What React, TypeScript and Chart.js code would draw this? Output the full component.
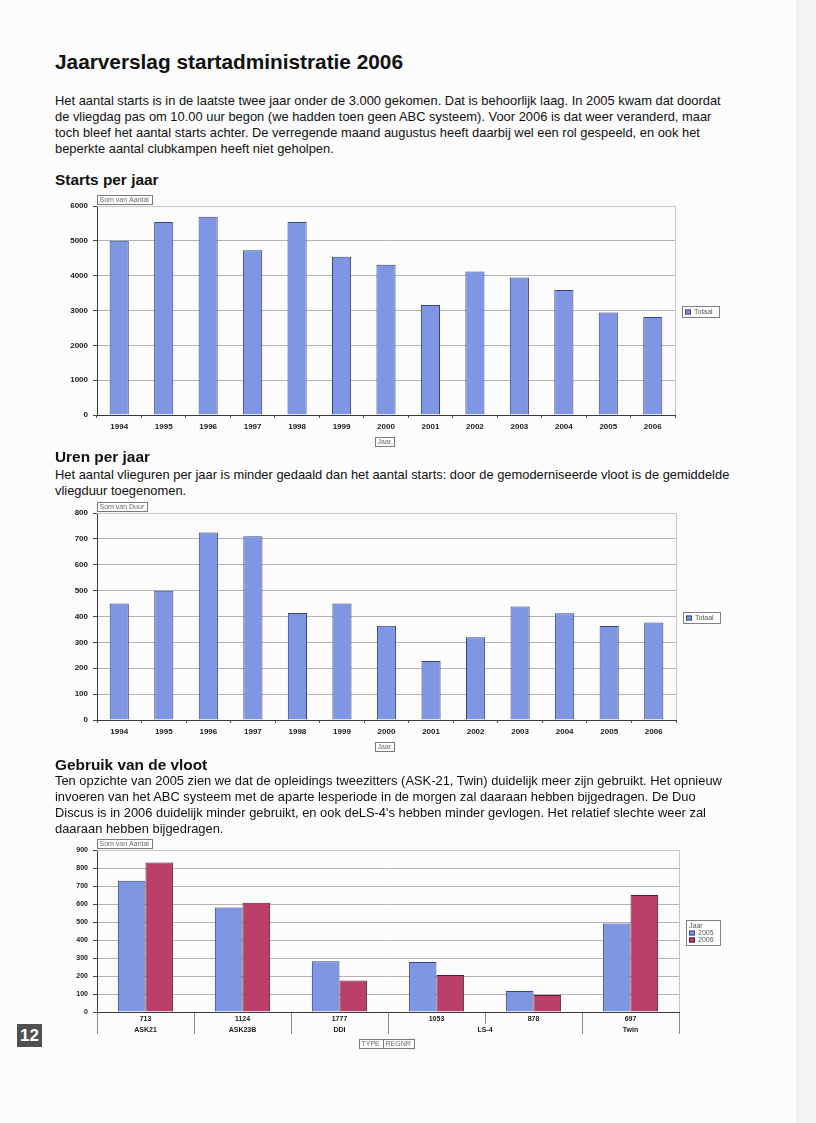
import React, { useEffect, useRef } from 'react';
import { Chart, registerables } from 'chart.js';

Chart.register(...registerables);

// ---------- data ----------
const years = ['1994', '1995', '1996', '1997', '1998', '1999', '2000', '2001', '2002', '2003', '2004', '2005', '2006'];
const startsTotaal = [5000, 5540, 5690, 4730, 5540, 4540, 4310, 3160, 4120, 3950, 3590, 2940, 2810];
const urenTotaal = [450, 500, 725, 710, 414, 450, 364, 228, 320, 439, 413, 363, 377];
const fleetCodes = ['713', '1124', '1777', '1053', '878', '697'];
const fleetTypes = ['ASK21', 'ASK23B', 'DDI', 'LS-4', 'LS-4', 'Twin'];
const fleet2005 = [729, 581, 282, 278, 117, 492];
const fleet2006 = [830, 607, 175, 206, 95, 650];

const FONT = '"Liberation Sans", Arial, sans-serif';
const BLUE = '#7f96e2';
const BLUE_EDGE = '#34467f';
const RED = '#bb3f6b';
const RED_EDGE = '#5c1a32';

type LegendItem = { label: string; color: string; border: string };
type Decor = {
  fieldButtons: string[];
  axisButtons: string[];
  axisButtonOffset: number;
  legendTitle?: string;
  legend: LegendItem[];
  groups?: string[];
};

function drawButtonRow(ctx: CanvasRenderingContext2D, labels: string[], cx: number, top: number) {
  ctx.font = `7px ${FONT}`;
  const widths = labels.map((l) => Math.ceil(ctx.measureText(l).width) + 5);
  const total = widths.reduce((a, b) => a + b, 0);
  let x = Math.round(cx - total / 2);
  labels.forEach((l, i) => {
    const w = widths[i];
    ctx.fillStyle = '#ffffff';
    ctx.fillRect(x, top, w, 9);
    ctx.strokeStyle = '#7a7a7a';
    ctx.lineWidth = 1;
    ctx.strokeRect(x + 0.5, top + 0.5, w, 9);
    ctx.fillStyle = '#6a6a6a';
    ctx.textBaseline = 'middle';
    ctx.textAlign = 'left';
    ctx.fillText(l, x + 2.5, top + 5);
    x += w;
  });
}

function makeDecor(cfg: Decor) {
  return {
    id: 'decor',
    beforeDatasetsDraw(chart: any) {
      const { ctx, chartArea: a } = chart;
      ctx.save();
      ctx.strokeStyle = '#c6c6c6';
      ctx.lineWidth = 1;
      ctx.beginPath();
      ctx.moveTo(a.left, Math.round(a.top) + 0.5);
      ctx.lineTo(Math.round(a.right) + 0.5, Math.round(a.top) + 0.5);
      ctx.lineTo(Math.round(a.right) + 0.5, a.bottom);
      ctx.stroke();
      ctx.restore();
    },
    afterDraw(chart: any) {
      const { ctx, chartArea: a } = chart;
      ctx.save();
      // field button top-left
      ctx.font = `7px ${FONT}`;
      const fw = cfg.fieldButtons.reduce((s, l) => s + Math.ceil(ctx.measureText(l).width) + 5, 0);
      drawButtonRow(ctx, cfg.fieldButtons, a.left + fw / 2, a.top - 11);
      // axis buttons under x-axis
      drawButtonRow(ctx, cfg.axisButtons, (a.left + a.right) / 2 - 2, a.bottom + cfg.axisButtonOffset);

      // legend box
      ctx.font = `7px ${FONT}`;
      const rows: { text: string; item?: LegendItem }[] = [];
      if (cfg.legendTitle) rows.push({ text: cfg.legendTitle });
      cfg.legend.forEach((it) => rows.push({ text: it.label, item: it }));
      const tw = Math.max(...rows.map((r) => ctx.measureText(r.text).width));
      const lw = Math.ceil(tw + 18);
      const rh = 7;
      const lh = rows.length * rh + 4;
      const lx = Math.round(a.right + 7);
      const ly = Math.round((a.top + a.bottom) / 2 - lh / 2 + 1);
      ctx.fillStyle = '#ffffff';
      ctx.fillRect(lx, ly, lw, lh);
      ctx.strokeStyle = '#808080';
      ctx.lineWidth = 1;
      ctx.strokeRect(lx + 0.5, ly + 0.5, lw, lh);
      rows.forEach((r, i) => {
        const cy = ly + 2.5 + i * rh + rh / 2;
        if (r.item) {
          ctx.fillStyle = r.item.color;
          ctx.fillRect(lx + 3, cy - 2.5, 6, 5);
          ctx.strokeStyle = r.item.border;
          ctx.strokeRect(lx + 3.5, cy - 2, 5, 4);
          ctx.fillStyle = '#555555';
          ctx.textBaseline = 'middle';
          ctx.textAlign = 'left';
          ctx.fillText(r.text, lx + 12, cy);
        } else {
          ctx.fillStyle = '#555555';
          ctx.textBaseline = 'middle';
          ctx.textAlign = 'left';
          ctx.fillText(r.text, lx + 3, cy);
        }
      });

      // grouped second-row labels
      if (cfg.groups) {
        const g = cfg.groups;
        const xs = chart.scales.x;
        const n = g.length;
        const cw = (xs.right - xs.left) / n;
        const b = Math.round(a.bottom);
        ctx.strokeStyle = '#8a8a8a';
        ctx.lineWidth = 1;
        for (let i = 0; i <= n; i++) {
          const x = Math.round(xs.left + i * cw) + 0.5;
          const full = i === 0 || i === n || g[i] !== g[i - 1];
          ctx.beginPath();
          ctx.moveTo(x, b + 1);
          ctx.lineTo(x, b + (full ? 22 : 12));
          ctx.stroke();
        }
        ctx.font = `bold 7px ${FONT}`;
        ctx.fillStyle = '#1a1a1a';
        ctx.textAlign = 'center';
        ctx.textBaseline = 'middle';
        let i = 0;
        while (i < n) {
          let j = i;
          while (j + 1 < n && g[j + 1] === g[i]) j++;
          const cx = (xs.getPixelForValue(i) + xs.getPixelForValue(j)) / 2;
          ctx.fillText(g[i], cx, b + 18);
          i = j + 1;
        }
      }
      ctx.restore();
    },
  };
}

type ChartSpec = {
  labels: string[];
  datasets: { label: string; data: number[]; color: string; border: string }[];
  max: number;
  step: number;
  padTop: number;
  padRight: number;
  yWidth: number;
  xHeight: number;
  height: number;
  catPct: number;
  tickFont: number;
  xTicksMarks: boolean;
  decor: Decor;
};

function BarChart({ spec, left, top }: { spec: ChartSpec; left: number; top: number }) {
  const ref = useRef<HTMLCanvasElement | null>(null);
  useEffect(() => {
    if (!ref.current) return;
    const chart = new Chart(ref.current, {
      type: 'bar',
      data: {
        labels: spec.labels,
        datasets: spec.datasets.map((d) => ({
          label: d.label,
          data: d.data,
          backgroundColor: d.color,
          borderColor: d.border,
          borderWidth: 1,
          categoryPercentage: spec.catPct,
          barPercentage: 1,
        })),
      },
      options: {
        animation: false,
        responsive: false,
        maintainAspectRatio: false,
        layout: { padding: { top: spec.padTop, right: spec.padRight, left: 0, bottom: 0 } },
        plugins: { legend: { display: false }, tooltip: { enabled: false } },
        scales: {
          x: {
            offset: true,
            grid: {
              display: spec.xTicksMarks,
              drawOnChartArea: false,
              drawTicks: spec.xTicksMarks,
              tickLength: 3,
              offset: true,
              color: '#555',
            },
            border: { display: true, color: '#3a3a3a', width: 1 },
            ticks: {
              color: '#1a1a1a',
              font: { family: FONT, size: spec.tickFont, weight: 'bold' },
              padding: spec.xTicksMarks ? 4 : 3,
              maxRotation: 0,
              autoSkip: false,
            },
            afterFit: (s: any) => {
              s.height = spec.xHeight;
            },
          },
          y: {
            min: 0,
            max: spec.max,
            grid: { color: '#b4b4b4', lineWidth: 1, drawTicks: true, tickLength: 4, tickColor: '#444' },
            border: { display: true, color: '#3a3a3a', width: 1 },
            ticks: {
              stepSize: spec.step,
              color: '#1a1a1a',
              font: { family: FONT, size: spec.tickFont, weight: 'bold' },
              padding: 5,
              callback: (v: any) => String(v),
            },
            afterFit: (s: any) => {
              s.width = spec.yWidth;
            },
          },
        },
      },
      plugins: [makeDecor(spec.decor)],
    } as any);
    return () => chart.destroy();
  }, [spec]);
  return (
    <div style={{ position: 'absolute', left, top }}>
      <canvas ref={ref} width={700} height={spec.height} style={{ display: 'block' }} />
    </div>
  );
}

const startsSpec: ChartSpec = {
  labels: years,
  datasets: [{ label: 'Totaal', data: startsTotaal, color: BLUE, border: BLUE_EDGE }],
  max: 6000,
  step: 1000,
  padTop: 14,
  padRight: 75,
  yWidth: 47,
  xHeight: 37,
  height: 260,
  catPct: 0.43,
  tickFont: 8,
  xTicksMarks: true,
  decor: {
    fieldButtons: ['Som van Aantal'],
    axisButtons: ['Jaar'],
    axisButtonOffset: 22,
    legend: [{ label: 'Totaal', color: BLUE, border: BLUE_EDGE }],
  },
};

const urenSpec: ChartSpec = {
  labels: years,
  datasets: [{ label: 'Totaal', data: urenTotaal, color: BLUE, border: BLUE_EDGE }],
  max: 800,
  step: 100,
  padTop: 15,
  padRight: 74,
  yWidth: 47,
  xHeight: 38,
  height: 260,
  catPct: 0.43,
  tickFont: 8,
  xTicksMarks: true,
  decor: {
    fieldButtons: ['Som van Duur'],
    axisButtons: ['Jaar'],
    axisButtonOffset: 22,
    legend: [{ label: 'Totaal', color: BLUE, border: BLUE_EDGE }],
  },
};

const fleetSpec: ChartSpec = {
  labels: fleetCodes,
  datasets: [
    { label: '2005', data: fleet2005, color: BLUE, border: BLUE_EDGE },
    { label: '2006', data: fleet2006, color: RED, border: RED_EDGE },
  ],
  max: 900,
  step: 100,
  padTop: 14,
  padRight: 71,
  yWidth: 47,
  xHeight: 44,
  height: 220,
  catPct: 0.57,
  tickFont: 7,
  xTicksMarks: false,
  decor: {
    fieldButtons: ['Som van Aantal'],
    axisButtons: ['TYPE', 'REGNR'],
    axisButtonOffset: 27,
    legendTitle: 'Jaar',
    legend: [
      { label: '2005', color: BLUE, border: BLUE_EDGE },
      { label: '2006', color: RED, border: RED_EDGE },
    ],
    groups: fleetTypes,
  },
};

const para1 = [
  'Het aantal starts is in de laatste twee jaar onder de 3.000 gekomen. Dat is behoorlijk laag. In 2005 kwam dat doordat',
  'de vliegdag pas om 10.00 uur begon (we hadden toen geen ABC systeem). Voor 2006 is dat weer veranderd, maar',
  'toch bleef het aantal starts achter. De verregende maand augustus heeft daarbij wel een rol gespeeld, en ook het',
  'beperkte aantal clubkampen heeft niet geholpen.',
];
const para2 = [
  'Het aantal vlieguren per jaar is minder gedaald dan het aantal starts: door de gemoderniseerde vloot is de gemiddelde',
  'vliegduur toegenomen.',
];
const para3 = [
  'Ten opzichte van 2005 zien we dat de opleidings tweezitters (ASK-21, Twin) duidelijk meer zijn gebruikt. Het opnieuw',
  'invoeren van het ABC systeem met de aparte lesperiode in de morgen zal daaraan hebben bijgedragen. De Duo',
  'Discus is in 2006 duidelijk minder gebruikt, en ook deLS-4\'s hebben minder gevlogen. Het relatief slechte weer zal',
  'daaraan hebben bijgedragen.',
];

function Para({ lines, top }: { lines: string[]; top: number }) {
  return (
    <div
      style={{
        position: 'absolute',
        left: 55,
        top,
        fontFamily: FONT,
        fontSize: 12.9,
        lineHeight: '16px',
        color: '#111',
        whiteSpace: 'nowrap',
      }}
    >
      {lines.map((l, i) => (
        <div key={i}>{l}</div>
      ))}
    </div>
  );
}

function Heading({ text, top, size }: { text: string; top: number; size: number }) {
  return (
    <div
      style={{
        position: 'absolute',
        left: 55,
        top,
        fontFamily: FONT,
        fontSize: size,
        fontWeight: 'bold',
        lineHeight: '18px',
        color: '#111',
        whiteSpace: 'nowrap',
      }}
    >
      {text}
    </div>
  );
}

export default function App() {
  return (
    <div
      style={{
        position: 'absolute',
        left: 0,
        top: 0,
        width: 816,
        height: 1123,
        background: '#fcfcfc',
        overflow: 'hidden',
      }}
    >
      <div style={{ position: 'absolute', left: 796, top: 0, width: 20, height: 1123, background: '#f3f3f3' }} />
      <div
        style={{
          position: 'absolute',
          left: 55,
          top: 51,
          fontFamily: FONT,
          fontSize: 20.8,
          fontWeight: 'bold',
          lineHeight: '22px',
          color: '#111',
          whiteSpace: 'nowrap',
        }}
      >
        Jaarverslag startadministratie 2006
      </div>
      <Para lines={para1} top={93} />
      <Heading text="Starts per jaar" top={171} size={15.4} />
      <BarChart spec={startsSpec} left={50} top={192} />
      <Heading text="Uren per jaar" top={448} size={15.4} />
      <Para lines={para2} top={467} />
      <BarChart spec={urenSpec} left={50} top={498} />
      <Heading text="Gebruik van de vloot" top={756} size={15.4} />
      <Para lines={para3} top={773} />
      <BarChart spec={fleetSpec} left={50} top={836} />
      <div
        style={{
          position: 'absolute',
          left: 17,
          top: 1024,
          width: 25,
          height: 23,
          background: '#505050',
          color: '#fff',
          fontFamily: FONT,
          fontWeight: 'bold',
          fontSize: 17,
          lineHeight: '23px',
          textAlign: 'center',
        }}
      >
        12
      </div>
    </div>
  );
}
